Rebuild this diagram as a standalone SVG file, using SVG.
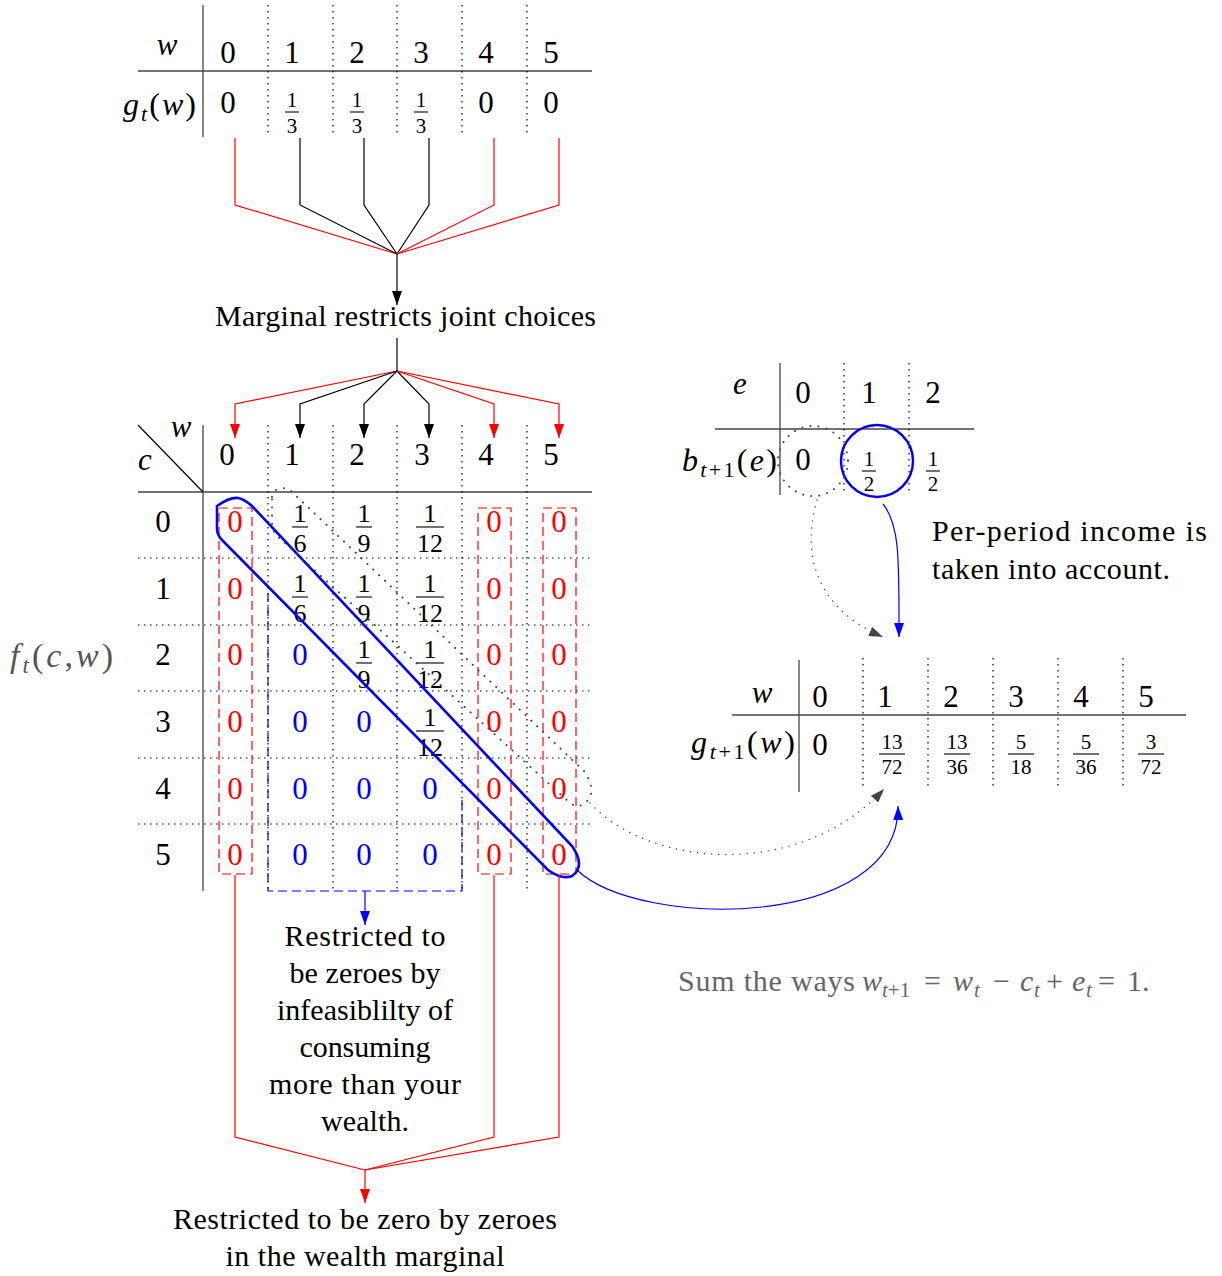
<svg xmlns="http://www.w3.org/2000/svg" width="1222" height="1276" viewBox="0 0 1222 1276">
<style>
text{font-family:"Liberation Serif","DejaVu Serif",serif;fill:#000}
.n{font-size:31px;text-anchor:middle}
.lab{font-size:32px}
.i{font-style:italic}
.b{font-size:30px}
.f20{font-size:21px;text-anchor:middle}
.f23{font-size:26px;text-anchor:middle}
.f19{font-size:21px;text-anchor:middle}
.red{fill:#ff0000}
.blue{fill:#0000ff}
.gsol{stroke:#444;stroke-width:1.3;fill:none}
.sol{stroke:#000;stroke-width:1.2;fill:none}
.dot{stroke:#000;stroke-width:1.2;stroke-dasharray:1.5 4.5;fill:none}
.bar{stroke:#000;stroke-width:1.1}
.rd{stroke:#ff0000;stroke-width:1.2;stroke-dasharray:9 5;fill:none}
.bd{stroke:#0000ff;stroke-width:1.2;stroke-dasharray:9 5;fill:none}
.rl{stroke:#ff0000;stroke-width:1.2;fill:none}
.bl{stroke:#000;stroke-width:1.2;fill:none}
.gt{fill:#666}
</style>
<defs>
<marker id="ak" viewBox="0 0 14 10" refX="14" refY="5" markerWidth="14" markerHeight="10" orient="auto" markerUnits="userSpaceOnUse"><path d="M0,0 L14,5 L0,10 z" fill="#000"/></marker>
<marker id="ar" viewBox="0 0 14 10" refX="14" refY="5" markerWidth="14" markerHeight="10" orient="auto" markerUnits="userSpaceOnUse"><path d="M0,0 L14,5 L0,10 z" fill="#ff0000"/></marker>
<marker id="ab" viewBox="0 0 14 10" refX="14" refY="5" markerWidth="14" markerHeight="10" orient="auto" markerUnits="userSpaceOnUse"><path d="M0,0 L14,5 L0,10 z" fill="#0000ff"/></marker>
<marker id="ag" viewBox="0 0 14 10" refX="14" refY="5" markerWidth="14" markerHeight="10" orient="auto" markerUnits="userSpaceOnUse"><path d="M0,0 L14,5 L0,10 z" fill="#444"/></marker>
</defs>

<!-- top marginal table g_t(w) -->
<g id="table-gt">
<line class="gsol" x1="203" y1="5" x2="203" y2="137"/>
<line class="gsol" x1="138" y1="71" x2="592" y2="71"/>
<line class="dot" x1="268" y1="5" x2="268" y2="133"/>
<line class="dot" x1="333" y1="5" x2="333" y2="133"/>
<line class="dot" x1="397" y1="5" x2="397" y2="133"/>
<line class="dot" x1="462" y1="5" x2="462" y2="133"/>
<line class="dot" x1="527" y1="5" x2="527" y2="133"/>
<text class="n i" x="167" y="55">w</text>
<text class="n" x="228" y="63">0</text>
<text class="n" x="292" y="63">1</text>
<text class="n" x="357" y="63">2</text>
<text class="n" x="421" y="63">3</text>
<text class="n" x="486" y="63">4</text>
<text class="n" x="551" y="63">5</text>
<text class="lab" x="123" y="115" textLength="73" lengthAdjust="spacing"><tspan class="i">g</tspan><tspan class="i" font-size="22" dy="6">t</tspan><tspan dy="-6">(</tspan><tspan class="i">w</tspan>)</text>
<text class="n" x="228" y="113">0</text>
<text class="f20" x="292" y="107">1</text><line class="bar" x1="285" y1="112" x2="299" y2="112"/><text class="f20" x="292" y="133">3</text>
<text class="f20" x="357" y="107">1</text><line class="bar" x1="350" y1="112" x2="364" y2="112"/><text class="f20" x="357" y="133">3</text>
<text class="f20" x="421" y="107">1</text><line class="bar" x1="414" y1="112" x2="428" y2="112"/><text class="f20" x="421" y="133">3</text>
<text class="n" x="486" y="113">0</text>
<text class="n" x="551" y="113">0</text>
</g>

<g id="label-marginal">
<text class="b" x="215" y="326" textLength="381" lengthAdjust="spacing">Marginal restricts joint choices</text>
</g>

<!-- joint table f_t(c,w) -->
<g id="table-ft">
<line class="gsol" x1="203" y1="425" x2="203" y2="891"/>
<line class="gsol" x1="138" y1="492" x2="592" y2="492"/>
<line class="sol" x1="138" y1="425" x2="203" y2="492"/>
<line class="dot" x1="268" y1="425" x2="268" y2="890"/>
<line class="dot" x1="333" y1="425" x2="333" y2="890"/>
<line class="dot" x1="397" y1="425" x2="397" y2="890"/>
<line class="dot" x1="462" y1="425" x2="462" y2="890"/>
<line class="dot" x1="527" y1="425" x2="527" y2="890"/>
<line class="dot" x1="138" y1="558" x2="592" y2="558"/>
<line class="dot" x1="138" y1="625" x2="592" y2="625"/>
<line class="dot" x1="138" y1="691" x2="592" y2="691"/>
<line class="dot" x1="138" y1="758" x2="592" y2="758"/>
<line class="dot" x1="138" y1="824" x2="592" y2="824"/>
<text class="n i" x="181" y="437">w</text>
<text class="n i" x="145" y="470">c</text>
<text class="n" x="227" y="465">0</text>
<text class="n" x="292" y="465">1</text>
<text class="n" x="357" y="465">2</text>
<text class="n" x="422" y="465">3</text>
<text class="n" x="486" y="465">4</text>
<text class="n" x="551" y="465">5</text>
<text class="n" x="163" y="532">0</text>
<text class="n" x="163" y="599">1</text>
<text class="n" x="163" y="665">2</text>
<text class="n" x="163" y="732">3</text>
<text class="n" x="163" y="799">4</text>
<text class="n" x="163" y="865">5</text>
<g>
<text class="n red" x="235" y="532">0</text><text class="n red" x="235" y="599">0</text><text class="n red" x="235" y="665">0</text><text class="n red" x="235" y="732">0</text><text class="n red" x="235" y="799">0</text><text class="n red" x="235" y="865">0</text>
<text class="n red" x="494" y="532">0</text><text class="n red" x="494" y="599">0</text><text class="n red" x="494" y="665">0</text><text class="n red" x="494" y="732">0</text><text class="n red" x="494" y="799">0</text><text class="n red" x="494" y="865">0</text>
<text class="n red" x="559" y="532">0</text><text class="n red" x="559" y="599">0</text><text class="n red" x="559" y="665">0</text><text class="n red" x="559" y="732">0</text><text class="n red" x="559" y="799">0</text><text class="n red" x="559" y="865">0</text>
</g>
<text class="n blue" x="300" y="665">0</text>
<text class="n blue" x="300" y="732">0</text><text class="n blue" x="364" y="732">0</text>
<text class="n blue" x="300" y="799">0</text><text class="n blue" x="364" y="799">0</text><text class="n blue" x="430" y="799">0</text>
<text class="n blue" x="300" y="865">0</text><text class="n blue" x="364" y="865">0</text><text class="n blue" x="430" y="865">0</text>
<!-- fractions -->
<text class="f23" x="300" y="522">1</text><line class="bar" x1="292" y1="527" x2="308" y2="527"/><text class="f23" x="300" y="552">6</text>
<text class="f23" x="364" y="522">1</text><line class="bar" x1="356" y1="527" x2="372" y2="527"/><text class="f23" x="364" y="552">9</text>
<text class="f23" x="430" y="522">1</text><line class="bar" x1="416" y1="527" x2="444" y2="527"/><text class="f23" x="430" y="552">12</text>
<text class="f23" x="300" y="592">1</text><line class="bar" x1="292" y1="597" x2="308" y2="597"/><text class="f23" x="300" y="622">6</text>
<text class="f23" x="364" y="592">1</text><line class="bar" x1="356" y1="597" x2="372" y2="597"/><text class="f23" x="364" y="622">9</text>
<text class="f23" x="430" y="592">1</text><line class="bar" x1="416" y1="597" x2="444" y2="597"/><text class="f23" x="430" y="622">12</text>
<text class="f23" x="364" y="658">1</text><line class="bar" x1="356" y1="663" x2="372" y2="663"/><text class="f23" x="364" y="688">9</text>
<text class="f23" x="430" y="658">1</text><line class="bar" x1="416" y1="663" x2="444" y2="663"/><text class="f23" x="430" y="688">12</text>
<text class="f23" x="430" y="726">1</text><line class="bar" x1="416" y1="731" x2="444" y2="731"/><text class="f23" x="430" y="756">12</text>
<!-- restriction boxes -->
<rect class="rd" x="219" y="508" width="33" height="366"/>
<rect class="rd" x="478" y="508" width="33" height="366"/>
<rect class="rd" x="543" y="508" width="33" height="366"/>
<polyline class="bd" points="268,593 268,891 462,891 462,800"/>
<!-- diagonal highlights -->
<path d="M 217 506 Q 230 497 238 498 Q 244 499 252 506 L 572 846 Q 586 866 572 876 Q 562 880 548 870 L 222 540 Q 217 535 217 528 Z" fill="none" stroke="#0000ff" stroke-width="2.6"/>
<path d="M 272 497 Q 276 484 290 490 L 585 772 Q 596 790 588 800 Q 580 810 570 803 L 276 535 Q 272 530 272 522 Z" fill="none" stroke="#444" stroke-width="2" stroke-dasharray="0.1 8" stroke-linecap="round"/>
</g>

<g id="label-ft">
<text x="10" y="667" font-size="34" textLength="103" lengthAdjust="spacing" style="fill:#555"><tspan class="i">f</tspan><tspan class="i" font-size="23" dy="6">t</tspan><tspan dy="-6">(</tspan><tspan class="i">c</tspan>,<tspan class="i">w</tspan>)</text>
</g>

<!-- b_{t+1}(e) table -->
<g id="table-b">
<line class="gsol" x1="780" y1="363" x2="780" y2="495"/>
<line class="gsol" x1="715" y1="429" x2="974" y2="429"/>
<line class="dot" x1="844" y1="363" x2="844" y2="495"/>
<line class="dot" x1="909" y1="363" x2="909" y2="495"/>
<text class="n i" x="740" y="394">e</text>
<text class="n" x="803" y="403">0</text>
<text class="n" x="869" y="403">1</text>
<text class="n" x="933" y="403">2</text>
<text class="lab" x="682" y="471" textLength="95" lengthAdjust="spacing"><tspan class="i">b</tspan><tspan font-size="22" dy="6"><tspan class="i">t</tspan>+1</tspan><tspan dy="-6">(</tspan><tspan class="i">e</tspan>)</text>
<text class="n" x="803" y="470">0</text>
<text class="f20" x="869" y="466">1</text><line class="bar" x1="862" y1="471" x2="876" y2="471"/><text class="f20" x="869" y="491">2</text>
<text class="f20" x="933" y="466">1</text><line class="bar" x1="926" y1="471" x2="940" y2="471"/><text class="f20" x="933" y="491">2</text>
<circle cx="877" cy="461" r="36" fill="none" stroke="#0000ff" stroke-width="2.4"/>
<circle cx="813" cy="461" r="35" fill="none" stroke="#444" stroke-width="2" stroke-dasharray="0.1 8" stroke-linecap="round"/>
</g>

<g id="note-income">
<text class="b" x="932" y="541" textLength="275" lengthAdjust="spacing">Per-period  income  is</text>
<text class="b" x="932" y="579" textLength="238" lengthAdjust="spacing">taken into account.</text>
</g>

<!-- g_{t+1}(w) table -->
<g id="table-gt1">
<line class="gsol" x1="799" y1="660" x2="799" y2="792"/>
<line class="gsol" x1="732" y1="715" x2="1186" y2="715"/>
<line class="dot" x1="863" y1="658" x2="863" y2="788"/>
<line class="dot" x1="928" y1="658" x2="928" y2="788"/>
<line class="dot" x1="993" y1="658" x2="993" y2="788"/>
<line class="dot" x1="1058" y1="658" x2="1058" y2="788"/>
<line class="dot" x1="1123" y1="658" x2="1123" y2="788"/>
<text class="n i" x="762" y="703">w</text>
<text class="n" x="820" y="707">0</text>
<text class="n" x="885" y="707">1</text>
<text class="n" x="951" y="707">2</text>
<text class="n" x="1016" y="707">3</text>
<text class="n" x="1081" y="707">4</text>
<text class="n" x="1146" y="707">5</text>
<text class="lab" x="691" y="753" textLength="104" lengthAdjust="spacing"><tspan class="i">g</tspan><tspan font-size="22" dy="6"><tspan class="i">t</tspan>+1</tspan><tspan dy="-6">(</tspan><tspan class="i">w</tspan>)</text>
<text class="n" x="820" y="755">0</text>
<text class="f19" x="892" y="749">13</text><line class="bar" x1="879" y1="754" x2="905" y2="754"/><text class="f19" x="892" y="774">72</text>
<text class="f19" x="957" y="749">13</text><line class="bar" x1="944" y1="754" x2="970" y2="754"/><text class="f19" x="957" y="774">36</text>
<text class="f19" x="1021" y="749">5</text><line class="bar" x1="1008" y1="754" x2="1034" y2="754"/><text class="f19" x="1021" y="774">18</text>
<text class="f19" x="1086" y="749">5</text><line class="bar" x1="1073" y1="754" x2="1099" y2="754"/><text class="f19" x="1086" y="774">36</text>
<text class="f19" x="1151" y="749">3</text><line class="bar" x1="1138" y1="754" x2="1164" y2="754"/><text class="f19" x="1151" y="774">72</text>
</g>

<g id="note-sum">
<text class="b gt" x="678" y="991" textLength="177" lengthAdjust="spacing">Sum the ways</text>
<text class="b i gt" x="862" y="991">w</text>
<text class="gt" x="882" y="997" font-size="21"><tspan class="i">t</tspan>+1</text>
<text class="b gt" x="924" y="991">=</text>
<text class="b i gt" x="953" y="991">w</text>
<text class="i gt" x="974" y="997" font-size="21">t</text>
<text class="b gt" x="993" y="991">−</text>
<text class="b i gt" x="1020" y="991">c</text>
<text class="i gt" x="1034" y="997" font-size="21">t</text>
<text class="b gt" x="1046" y="991">+</text>
<text class="b i gt" x="1072" y="991">e</text>
<text class="i gt" x="1086" y="997" font-size="21">t</text>
<text class="b gt" x="1098" y="991">=</text>
<text class="b gt" x="1127" y="991">1.</text>
</g>

<g id="note-restricted-blue">
<text class="b" x="365" y="946" text-anchor="middle" textLength="161" lengthAdjust="spacing">Restricted to</text>
<text class="b" x="365" y="983" text-anchor="middle" textLength="151" lengthAdjust="spacing">be zeroes by</text>
<text class="b" x="365" y="1020" text-anchor="middle" textLength="176" lengthAdjust="spacing">infeasiblilty of</text>
<text class="b" x="365" y="1057" text-anchor="middle" textLength="131" lengthAdjust="spacing">consuming</text>
<text class="b" x="365" y="1094" text-anchor="middle" textLength="192" lengthAdjust="spacing">more than your</text>
<text class="b" x="365" y="1131" text-anchor="middle" textLength="88" lengthAdjust="spacing">wealth.</text>
</g>

<g id="note-restricted-red">
<text class="b" x="365" y="1229" text-anchor="middle" textLength="384" lengthAdjust="spacing">Restricted to be zero by zeroes</text>
<text class="b" x="365" y="1266" text-anchor="middle" textLength="279" lengthAdjust="spacing">in the wealth marginal</text>
</g>

<g id="connectors">
<polyline class="rl" points="235,138 235,205 397,254"/>
<polyline class="bl" points="300,138 300,205 397,254"/>
<polyline class="bl" points="364,138 364,205 397,254"/>
<polyline class="bl" points="429,138 429,205 397,254"/>
<polyline class="rl" points="494,138 494,205 397,254"/>
<polyline class="rl" points="559,138 559,205 397,254"/>
<line class="bl" x1="397" y1="254" x2="397" y2="305" marker-end="url(#ak)"/>
<line class="bl" x1="397" y1="338" x2="397" y2="371"/>
<polyline class="rl" points="397,371 235,404 235,438" marker-end="url(#ar)"/>
<polyline class="bl" points="397,371 300,404 300,438" marker-end="url(#ak)"/>
<polyline class="bl" points="397,371 364,404 364,438" marker-end="url(#ak)"/>
<polyline class="bl" points="397,371 429,404 429,438" marker-end="url(#ak)"/>
<polyline class="rl" points="397,371 494,404 494,438" marker-end="url(#ar)"/>
<polyline class="rl" points="397,371 559,404 559,438" marker-end="url(#ar)"/>
<line x1="365" y1="891" x2="365" y2="925" stroke="#0000ff" stroke-width="1.2" marker-end="url(#ab)"/>
<polyline class="rl" points="235,875 235,1137 365,1170"/>
<polyline class="rl" points="494,875 494,1137 365,1170"/>
<polyline class="rl" points="559,875 559,1137 365,1170"/>
<line class="rl" x1="365" y1="1170" x2="365" y2="1203" marker-end="url(#ar)"/>
<path d="M 883 504 C 900 525, 899 560, 899 637" fill="none" stroke="#0000ff" stroke-width="1.2" marker-end="url(#ab)"/>
<path d="M 817 500 C 800 560, 820 610, 883 637" fill="none" stroke="#444" stroke-width="1.4" stroke-dasharray="0.1 7" stroke-linecap="round" marker-end="url(#ag)"/>
<path d="M 577 870 C 640 930, 900 930, 898 806" fill="none" stroke="#0000ff" stroke-width="1.2" marker-end="url(#ab)"/>
<path d="M 590 803 C 650 868, 800 880, 884 789" fill="none" stroke="#444" stroke-width="1.4" stroke-dasharray="0.1 7" stroke-linecap="round" marker-end="url(#ag)"/>
</g>
</svg>
